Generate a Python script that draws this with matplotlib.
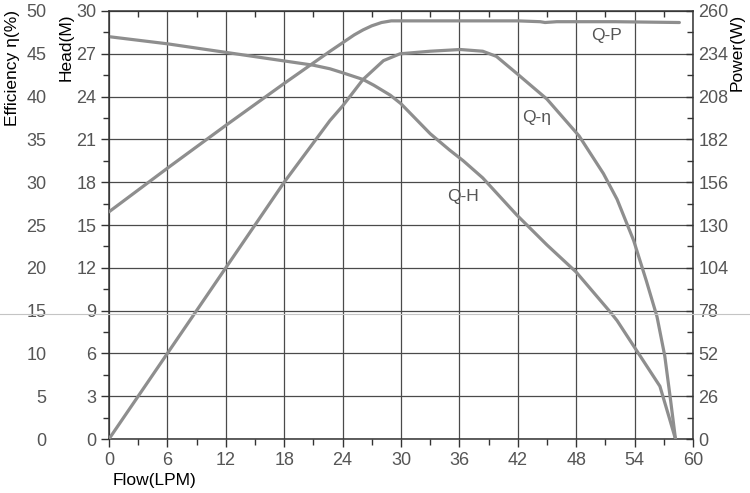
import matplotlib
matplotlib.use('Agg')
import matplotlib.pyplot as plt
from matplotlib.ticker import MultipleLocator
from matplotlib.lines import Line2D

plt.rcParams['font.family'] = ['Liberation Sans', 'DejaVu Sans']

# Q-H curve (head, M)
flow_h = [0, 6, 12, 18, 21, 22.7, 24.1, 26.1, 27.2, 28.9, 30, 33, 35, 36.4, 38.4,
          41.9, 45, 48, 51.5, 52.2, 54.4, 56.6, 57.6, 58.2]
head = [28.2, 27.7, 27.1, 26.5, 26.2, 25.95, 25.65, 25.2, 24.8, 24.1, 23.5, 21.4, 20.25,
        19.5, 18.3, 15.7, 13.6, 11.7, 8.9, 8.3, 6.0, 3.7, 1.4, 0]

# Q-P curve (power, W)
flow_p = [0, 6, 12, 18, 22.7, 24.2, 25.2, 26.1, 27, 28, 29, 36, 42, 44.3, 44.8, 46, 52, 58.6]
power = [138, 164.5, 190.5, 216, 235.5, 241.5, 245.5, 248.5, 251, 253, 254, 254, 254,
         253.5, 253, 253.5, 253.5, 253]

# Q-eta curve (efficiency, %)
flow_e = [0, 6, 12, 18, 22.7, 24, 26.1, 28.2, 29.9, 33, 36.1, 38.4, 39.8, 41.9,
          45.0, 48.3, 50.8, 52.2, 53.9, 55.2, 56.3, 57.1, 57.7, 58.2]
eff = [0, 10, 20, 30, 37.2, 38.9, 42.0, 44.2, 45.0, 45.3, 45.5, 45.3, 44.7, 42.7,
       39.7, 35.4, 31.0, 28.0, 23.2, 18.5, 14.3, 9.7, 4.5, 0]

x_ticks = list(range(0, 61, 6))
head_ticks = list(range(0, 31, 3))
power_ticks = list(range(0, 261, 26))
eff_ticks = list(range(0, 51, 5))

curve_color = '#8e8e8e'
grid_color = '#4a4a4a'
tick_lbl = '#555555'
spine_c = '#333333'

fig = plt.figure(figsize=(7.5, 4.93), dpi=100)
ax = fig.add_axes([0.1453, 0.1095, 0.7787, 0.8682])
ax.set_xlim(0, 60)
ax.set_ylim(0, 30)
ax.set_xticks(x_ticks)
ax.set_yticks(head_ticks)
ax.xaxis.set_minor_locator(MultipleLocator(3))
ax.yaxis.set_minor_locator(MultipleLocator(1.5))
ax.grid(True, which='major', color=grid_color, linewidth=0.9)
ax.tick_params(axis='both', which='major', direction='out', length=6, width=1,
               color=spine_c, labelsize=13, labelcolor=tick_lbl, pad=3)
ax.tick_params(axis='both', which='minor', direction='out', length=4, width=1, color=spine_c)
for s in ax.spines.values():
    s.set_color(spine_c)
    s.set_linewidth(1.1)
ax.plot(flow_h, head, color=curve_color, linewidth=2.3, solid_capstyle='round',
        solid_joinstyle='round')

sec = ax.secondary_xaxis('top')
sec.set_xticks(x_ticks)
sec.xaxis.set_minor_locator(MultipleLocator(3))
sec.tick_params(axis='x', which='major', length=0, labeltop=False)
sec.tick_params(axis='x', which='minor', direction='in', length=4, width=1, color=spine_c)
sec.spines['top'].set_visible(False)

ax2 = ax.twinx()
ax2.set_ylim(0, 260)
ax2.set_yticks(power_ticks)
ax2.yaxis.set_minor_locator(MultipleLocator(13))
ax2.tick_params(axis='y', which='major', direction='in', length=5, width=1,
                color=spine_c, labelsize=13, labelcolor=tick_lbl, pad=4)
ax2.tick_params(axis='y', which='minor', direction='in', length=4, width=1, color=spine_c)
for s in ax2.spines.values():
    s.set_visible(False)
ax2.plot(flow_p, power, color=curve_color, linewidth=2.3, solid_capstyle='round',
         solid_joinstyle='round')

ax3 = ax.twinx()
ax3.set_ylim(0, 50)
ax3.set_yticks(eff_ticks)
ax3.yaxis.set_ticks_position('left')
ax3.spines['left'].set_position(('outward', 40))
for s in ax3.spines.values():
    s.set_visible(False)
ax3.tick_params(axis='y', which='both', length=0, labelsize=13, labelcolor=tick_lbl, pad=5)
ax3.plot(flow_e, eff, color=curve_color, linewidth=2.3, solid_capstyle='round',
         solid_joinstyle='round')

ax.text(51.1, 28.3, 'Q-P', fontsize=12.5, color=tick_lbl, ha='center', va='center')
ax.text(43.9, 22.5, 'Q-η', fontsize=12.5, color=tick_lbl, ha='center', va='center')
ax.text(36.4, 17.0, 'Q-H', fontsize=12.5, color=tick_lbl, ha='center', va='center')

W, H = 750, 493
fig.text(13 / W, 1 - 68 / H, 'Efficiency η(%)', rotation=90, fontsize=12.5,
         ha='center', va='center', color='black')
fig.text(66 / W, 1 - 47 / H, 'Head(M)', rotation=90, fontsize=12.5,
         ha='center', va='center', color='black')
fig.text(737 / W, 1 - 52 / H, 'Power(W)', rotation=90, fontsize=12.5,
         ha='center', va='center', color='black')
fig.text(155 / W, 1 - 481 / H, 'Flow(LPM)', fontsize=12.5,
         ha='center', va='center', color='black')

# faint scan line across the figure
fig.add_artist(Line2D([0, 1], [1 - 314 / H, 1 - 314 / H], transform=fig.transFigure,
                      color='#c4c4c4', linewidth=0.8))

fig.savefig('out.png', dpi=100)
